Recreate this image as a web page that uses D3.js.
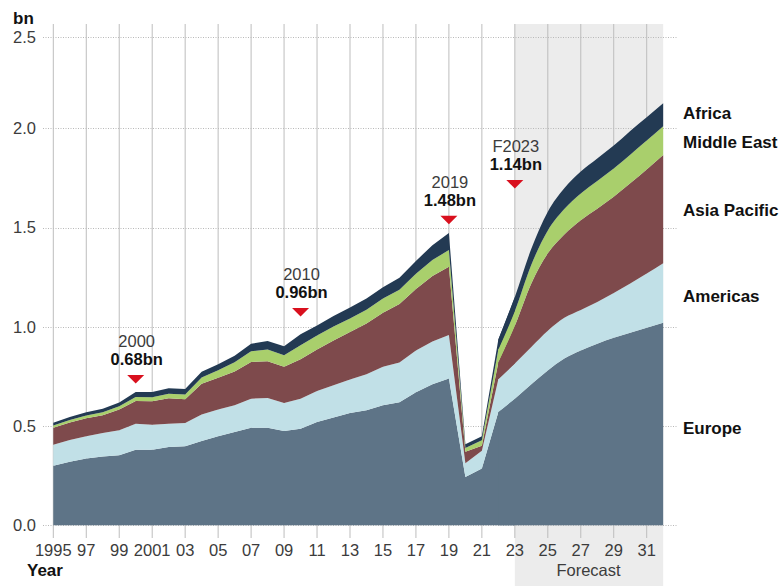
<!DOCTYPE html>
<html><head><meta charset="utf-8">
<script src="https://cdn.jsdelivr.net/npm/d3@7"></script>
<style>
body{margin:0;background:#fff}
svg{display:block;font-family:"Liberation Sans",Arial,Helvetica,sans-serif}
</style>
</head><body>
<svg id="chart" width="782" height="586"></svg>
<script>
// ---------- DATA (billions of international arrivals) ----------
const years = d3.range(1995, 2033);
const europe = [.300,.320,.336,.346,.353,.381,.381,.394,.398,.425,
                .448,.470,.492,.492,.475,.487,.520,.543,.566,.580,
                .605,.620,.670,.710,.740,.243,.286,.571,
                .638,.710,.780,.840,.880,.915,.945,.970,.995,1.020];
const americas = [.106,.110,.112,.119,.126,.131,.126,.118,.117,.133,
                  .135,.135,.146,.149,.141,.150,.156,.163,.168,.181,
                  .194,.200,.211,.216,.219,.069,.090,.165,
                  .177,.188,.200,.205,.205,.210,.225,.248,.273,.300];
const asiaPacific = [.086,.088,.091,.090,.104,.114,.118,.128,.120,.155,
                     .160,.170,.185,.185,.183,.200,.210,.225,.240,.255,
                     .272,.295,.310,.330,.343,.058,.025,.085,
                     .190,.320,.390,.420,.452,.470,.485,.505,.525,.545];
const middleEast = [.011,.013,.014,.015,.017,.020,.020,.023,.024,.032,
                    .038,.046,.054,.060,.058,.070,.070,.070,.068,.070,
                    .072,.072,.076,.080,.085,.020,.027,.065,
                    .075,.095,.115,.128,.135,.140,.142,.144,.145,.146];
const africa = [.013,.015,.016,.017,.019,.026,.026,.027,.028,.028,
                .030,.033,.038,.042,.045,.056,.050,.053,.055,.056,
                .056,.060,.065,.075,.085,.018,.020,.050,
                .070,.080,.095,.105,.110,.113,.116,.120,.123,.126];

const regions = ["Europe", "Americas", "Asia Pacific", "Middle East", "Africa"];
const regionValues = [europe, americas, asiaPacific, middleEast, africa];
const regionColors = ["#5e7487", "#c1e0e7", "#7e4a4c", "#a9cf6c", "#233a53"];

const yTicks = [0, 0.5, 1.0, 1.5, 2.0, 2.5];
const yTickLabels = ["0.0", "0.5", "1.0", "1.5", "2.0", "2.5"];
const xTickYears = d3.range(1995, 2032, 2);
const xTickLabels = ["1995","97","99","2001","03","05","07","09","11","13","15","17","19","21","23","25","27","29","31"];

const annYears = [2000, 2010, 2019, 2023];
const annTitles = ["2000", "2010", "2019", "F2023"];
const annValues = ["0.68bn", "0.96bn", "1.48bn", "1.14bn"];

const lastActualYear = 2022;
const forecastStart = 2023;
const lastYear = 2032;

// ---------- LAYOUT ----------
const svg = d3.select("#chart");
const x = d3.scaleLinear().domain([1995, 2031]).range([53.3, 646.7]);
const y = d3.scaleLinear().domain([0, 2, 2.5]).range([525.3, 128.3, 37.3]);
const gridTop = 24, gridLeft = 43, gridRight = 677, tickBottom = 538;
const annTop = [375, 308, 215.7, 180]; // layout: triangle tops

const rows = years.map((yr, i) => {
  const r = {year: yr};
  regions.forEach((k, j) => r[k] = regionValues[j][i]);
  return r;
});
const series = d3.stack().keys(regions)(rows);

// forecast shade
svg.append("rect")
  .attr("x", x(forecastStart)).attr("y", gridTop)
  .attr("width", x(lastYear) - x(forecastStart)).attr("height", 586 - gridTop)
  .attr("fill", "#ececec");

// horizontal dotted gridlines
svg.append("g").selectAll("line").data(yTicks).join("line")
  .attr("x1", gridLeft).attr("x2", gridRight)
  .attr("y1", d => Math.round(y(d)) + 0.5).attr("y2", d => Math.round(y(d)) + 0.5)
  .attr("stroke", "#b8b8b8").attr("stroke-width", 1).attr("stroke-dasharray", "1,1.5");

// vertical gridlines / ticks
svg.append("g").selectAll("line").data(xTickYears).join("line")
  .attr("x1", d => x(d)).attr("x2", d => x(d))
  .attr("y1", gridTop).attr("y2", tickBottom)
  .attr("stroke", "#bdbdbd").attr("stroke-width", 1);

// areas
const areaHist = d3.area().x(d => x(d.data.year)).y0(d => y(d[0])).y1(d => y(d[1])).curve(d3.curveLinear);
const areaFc = d3.area().x(d => x(d.data.year)).y0(d => y(d[0])).y1(d => y(d[1])).curve(d3.curveMonotoneX);
const gA = svg.append("g");
series.forEach((s, j) => {
  const hist = s.filter(d => d.data.year <= forecastStart);
  gA.append("path").attr("d", areaHist(hist)).attr("fill", regionColors[j]);
});
series.forEach((s, j) => {
  const fc = s.filter(d => d.data.year >= lastActualYear);
  gA.append("path").attr("d", areaFc(fc)).attr("fill", regionColors[j]);
});

// y tick labels
svg.append("g").selectAll("text").data(yTicks).join("text")
  .attr("x", 36).attr("y", d => y(d)).attr("dy", "0.36em")
  .attr("text-anchor", "end").attr("font-size", 16.5).attr("fill", "#3c3c3c")
  .text((d, i) => yTickLabels[i]);
svg.append("text").attr("x", 13).attr("y", 24)
  .attr("font-size", 17).attr("font-weight", "bold").attr("fill", "#111").text("bn");

// x tick labels
svg.append("g").selectAll("text").data(xTickYears).join("text")
  .attr("x", d => x(d)).attr("y", 550).attr("dy", "0.36em")
  .attr("text-anchor", "middle").attr("font-size", 16.5).attr("fill", "#3c3c3c")
  .text((d, i) => xTickLabels[i]);
svg.append("text").attr("x", 27).attr("y", 570).attr("dy", "0.36em")
  .attr("font-size", 17).attr("font-weight", "bold").attr("fill", "#111").text("Year");
svg.append("text").attr("x", (x(forecastStart) + x(lastYear)) / 2 - 0.5).attr("y", 570).attr("dy", "0.36em")
  .attr("text-anchor", "middle").attr("font-size", 16.5).attr("fill", "#3c3c3c").text("Forecast");

// region labels at right
const labelY = [428, 296, 210, 142, 113];
regions.forEach((k, j) => {
  svg.append("text").attr("x", 683).attr("y", labelY[j]).attr("dy", "0.36em")
    .attr("font-size", 17).attr("font-weight", "bold").attr("fill", "#111").text(k);
});

// annotations
annYears.forEach((yr, i) => {
  const cx = x(yr), t = annTop[i];
  const g = svg.append("g");
  g.append("text").attr("x", cx + 1).attr("y", t - 34).attr("dy", "0.36em")
    .attr("text-anchor", "middle").attr("font-size", 16.5).attr("fill", "#3c3c3c").text(annTitles[i]);
  g.append("text").attr("x", cx + 1).attr("y", t - 16).attr("dy", "0.36em")
    .attr("text-anchor", "middle").attr("font-size", 16.5).attr("font-weight", "bold").attr("fill", "#111").text(annValues[i]);
  g.append("path").attr("d", `M${cx - 8.5},${t}L${cx + 8.5},${t}L${cx},${t + 8.5}Z`).attr("fill", "#d9101e");
});
</script>
</body></html>
